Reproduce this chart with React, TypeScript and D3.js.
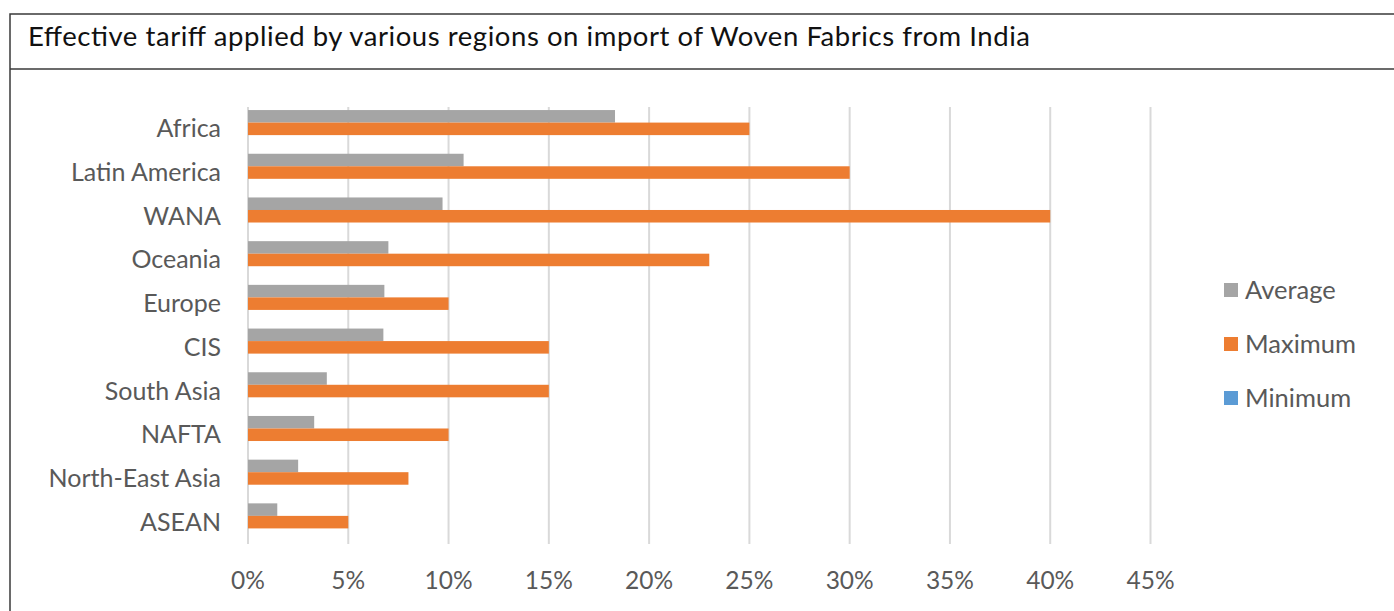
import { useEffect, useRef } from "react";
import * as d3 from "d3";

const regions = [
  "Africa",
  "Latin America",
  "WANA",
  "Oceania",
  "Europe",
  "CIS",
  "South Asia",
  "NAFTA",
  "North-East Asia",
  "ASEAN",
];
const average = [0.183, 0.1075, 0.097, 0.07, 0.068, 0.0675, 0.0393, 0.033, 0.025, 0.0146];
const maximum = [0.25, 0.3, 0.4, 0.23, 0.1, 0.15, 0.15, 0.1, 0.08, 0.05];
const minimum = [0, 0, 0, 0, 0, 0, 0, 0, 0, 0];
const seriesNames = ["Average", "Maximum", "Minimum"];
const seriesColors = ["#a5a5a5", "#ed7d31", "#5b9bd5"];
const ticks = [0, 0.05, 0.1, 0.15, 0.2, 0.25, 0.3, 0.35, 0.4, 0.45];

const W = 1394;
const H = 611;
const FONT = "Lato, 'Open Sans', sans-serif";

const App = () => {
  const ref = useRef(null);

  useEffect(() => {
    const svg = d3.select(ref.current);
    svg.selectAll("*").remove();

    // frame + title box
    svg.append("path")
      .attr("d", `M10,${H} V14 H${W}`)
      .attr("fill", "none")
      .attr("stroke", "#3a3a3a")
      .attr("stroke-width", 1.5);
    svg.append("line")
      .attr("x1", 10).attr("x2", W)
      .attr("y1", 69).attr("y2", 69)
      .attr("stroke", "#3a3a3a")
      .attr("stroke-width", 1.5);
    svg.append("text")
      .attr("x", 28).attr("y", 46)
      .attr("font-family", FONT)
      .attr("font-size", 27.5)
      .attr("fill", "#111")
      .attr("textLength", 1002)
      .attr("lengthAdjust", "spacing")
      .text("Effective tariff applied by various regions on import of Woven Fabrics from India");

    const x = d3.scaleLinear().domain([0, 0.45]).range([248, 1150.5]);
    const y = d3.scaleBand().domain(regions).range([107, 544]).paddingInner(0.14).paddingOuter(0.07);
    const sub = d3.scaleBand().domain(seriesNames).range([0, y.bandwidth()]);

    // gridlines
    svg.append("g")
      .selectAll("line")
      .data(ticks)
      .join("line")
      .attr("x1", (d) => x(d)).attr("x2", (d) => x(d))
      .attr("y1", 107).attr("y2", 544)
      .attr("stroke", "#d9d9d9")
      .attr("stroke-width", 2);

    // tick labels
    svg.append("g")
      .selectAll("text")
      .data(ticks)
      .join("text")
      .attr("x", (d) => x(d))
      .attr("y", 589)
      .attr("text-anchor", "middle")
      .attr("font-family", FONT)
      .attr("font-size", 24.5)
      .attr("fill", "#595959")
      .text((d) => d3.format(".0%")(d));

    // category labels
    svg.append("g")
      .selectAll("text")
      .data(regions)
      .join("text")
      .attr("x", 221)
      .attr("y", (d) => y(d) + y.bandwidth() / 2 + 8.5)
      .attr("text-anchor", "end")
      .attr("font-family", FONT)
      .attr("font-size", 25)
      .attr("fill", "#595959")
      .text((d) => d);

    // bars
    const allSeries = [average, maximum, minimum];
    allSeries.forEach((vals, si) => {
      svg.append("g")
        .selectAll("rect")
        .data(vals)
        .join("rect")
        .attr("x", x(0))
        .attr("y", (d, i) => y(regions[i]) + sub(seriesNames[si]))
        .attr("width", (d) => x(d) - x(0))
        .attr("height", sub.bandwidth())
        .attr("fill", seriesColors[si]);
    });

    // legend
    const legend = svg.append("g")
      .selectAll("g")
      .data(seriesNames)
      .join("g")
      .attr("transform", (d, i) => `translate(1224, ${290 + i * 54})`);
    legend.append("rect")
      .attr("x", 0).attr("y", -7)
      .attr("width", 14).attr("height", 14)
      .attr("fill", (d, i) => seriesColors[i]);
    legend.append("text")
      .attr("x", 21).attr("y", 8.5)
      .attr("font-family", FONT)
      .attr("font-size", 25.5)
      .attr("fill", "#595959")
      .text((d) => d);
  }, []);

  return (
    <svg
      ref={ref}
      width={W}
      height={H}
      style={{ position: "absolute", left: 0, top: 0, background: "#fff" }}
    ></svg>
  );
};

export default App;
